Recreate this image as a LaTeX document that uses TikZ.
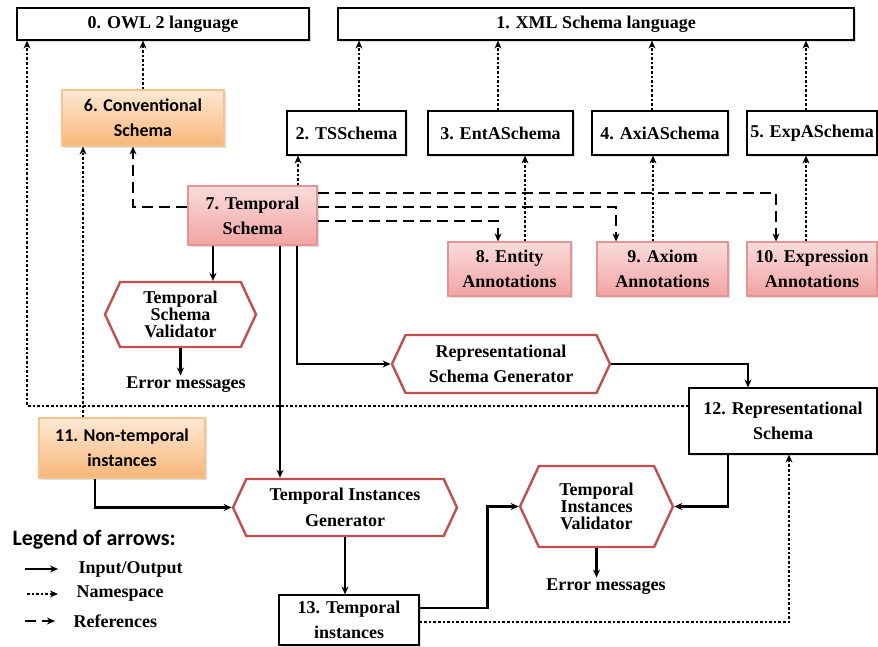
\documentclass[tikz,border=0pt]{standalone}
\usepackage{fontspec}
\setmainfont{Liberation Serif}
\newfontfamily\calib{Carlito}
\usetikzlibrary{arrows.meta, shapes.symbols, shadows}
\definecolor{hexred}{HTML}{C0504D}
\definecolor{pinktop}{HTML}{FBDCDC}
\definecolor{pinkbot}{HTML}{F2A3A3}
\definecolor{pinkline}{HTML}{E39494}
\definecolor{orgtop}{HTML}{FDE8D3}
\definecolor{orgbot}{HTML}{F8B679}
\definecolor{orgline}{HTML}{F6C28E}
\tikzset{
  every picture/.style={line width=1.2pt},
  box/.style={draw=black, fill=white, align=center, inner sep=2pt, font=\fontsize{18}{25}\selectfont\bfseries,
    drop shadow={opacity=0.25, shadow xshift=1.5pt, shadow yshift=-1.5pt}},
  pinkbox/.style={box, draw=pinkline, top color=pinktop, bottom color=pinkbot},
  orgbox/.style={box, draw=orgline, top color=orgtop, bottom color=orgbot, font=\calib\fontsize{18}{25}\selectfont\bfseries},
  hexa/.style={signal, signal to=west and east, signal pointer angle=130, draw=hexred, line width=2.4pt, fill=white,
    align=center, inner sep=1pt, font=\fontsize{18}{17}\selectfont\bfseries},
  io/.style={-{Stealth[length=8pt, width=7pt]}, line width=2.6pt},
  ns/.style={io, dash pattern=on 2.6pt off 2pt},
  ref/.style={io, dash pattern=on 11pt off 6pt},
  note/.style={font=\fontsize{18}{20}\selectfont\bfseries, inner sep=1pt},
}

\begin{document}
\begin{tikzpicture}[x=1pt, y=-1pt]
  \useasboundingbox (0,0) rectangle (878,646);
  \node[box, minimum width=292pt, minimum height=32pt] (n0) at (163,24) {0. OWL 2 language};
  \node[box, minimum width=516pt, minimum height=32pt] (n1) at (596,24) {1. XML Schema language};
  \node[box, minimum width=119pt, minimum height=44pt] (n2) at (346.5,133) {2. TSSchema};
  \node[box, minimum width=145pt, minimum height=44pt] (n3) at (500.5,133) {3. EntASchema};
  \node[box, minimum width=136pt, minimum height=44pt] (n4) at (660,133) {4. AxiASchema};
  \node[box, minimum width=130pt, minimum height=44pt] (n5) at (812,133) {5. ExpASchema};
  \node[orgbox, minimum width=162pt, minimum height=56pt] (n6) at (143,118) {6. Conventional\\Schema};
  \node[pinkbox, minimum width=129pt, minimum height=59pt] (n7) at (252.5,215.5) {7. Temporal\\Schema};
  \node[pinkbox, minimum width=123pt, minimum height=54pt] (n8) at (509.5,269) {8. Entity\\Annotations};
  \node[pinkbox, minimum width=131pt, minimum height=54pt] (n9) at (662.5,269) {9. Axiom\\Annotations};
  \node[pinkbox, minimum width=130pt, minimum height=54pt] (n10) at (812,269) {10. Expression\\Annotations};
  \node[orgbox, minimum width=166pt, minimum height=60pt] (n11) at (122,448) {11. Non-temporal\\instances};
  \node[box, minimum width=188pt, minimum height=66pt] (n12) at (783,421) {12. Representational\\Schema};
  \node[box, minimum width=140pt, minimum height=50pt] (n13) at (349,620) {13. Temporal\\instances};
  \node[hexa, minimum width=151pt, minimum height=65pt] (tsv) at (180.5,314.5) {Temporal\\Schema\\Validator};
  \node[hexa, minimum width=218pt, minimum height=58pt, font=\fontsize{18}{25}\selectfont\bfseries] (rsg) at (501,364) {Representational\\Schema Generator};
  \node[hexa, minimum width=224pt, minimum height=57pt, font=\fontsize{18}{26}\selectfont\bfseries] (tig) at (345,507.5) {Temporal Instances\\Generator};
  \node[hexa, minimum width=153pt, minimum height=81pt] (tiv) at (596.5,506.5) {Temporal\\Instances\\Validator};
  \node[note] (e1) at (186,385) {Error messages};
  \node[note] (e2) at (606,587) {Error messages};

  \draw[ns] (n6.north) -- (n6.north |- n0.south);
  \draw[ns] ([xshift=12.5pt]n2.north) -- ([xshift=12.5pt]n2.north |- n1.south);
  \foreach \a/\s in {n3/-2.5, n4/-8, n5/-6} {\draw[ns] ([xshift=\s pt]\a.north) -- ([xshift=\s pt]\a.north |- n1.south);}
  \foreach \a/\b/\s in {n8/n3/15.5, n9/n4/-9.5, n10/n5/-6} {\draw[ns] ([xshift=\s pt]\a.north) -- ([xshift=\s pt]\a.north |- \b.south);}
  \draw[ns] (n7.north -| 298,0) -- (n2.south -| 298,0);
  \draw[ns] (n11.north -| 83,0) -- (n6.south -| 83,0);
  \draw[ns] ([yshift=15pt]n12.west) -| (n0.south -| 27,0);
  \draw[ns] ([yshift=-2pt]n13.east) -| (n12.south -| 789,0);

  \draw[ref] ([yshift=8.5pt]n7.west) -| (n6.south -| 133,0);
  \draw[ref] ([yshift=22.5pt]n7.east) -| ([xshift=-36pt]n10.north);
  \draw[ref] ([yshift=8.5pt]n7.east) -| ([xshift=-46.5pt]n9.north);
  \draw[ref] ([yshift=-5.5pt]n7.east) -| ([xshift=-11.5pt]n8.north);

  \draw[io] (n7.south -| 213,0) -- (tsv.north -| 213,0);
  \draw[io] (tsv.south) -- (tsv.south |- e1.north);
  \draw[io] (n7.south -| 297,0) |- (rsg.west);
  \draw[io] (n7.south -| 280,0) -- (tig.north -| 280,0);
  \draw[io] (rsg.east) -| ([xshift=-35pt]n12.north);
  \draw[io] ([xshift=-27pt]n11.south) |- (tig.west);
  \draw[io] (tig.south) -- (tig.south |- n13.north);
  \draw[io] ([yshift=12pt]n13.east) -- ++(68,0) |- (tiv.west);
  \draw[io] ([xshift=-55pt]n12.south) |- (tiv.east);
  \draw[io] (tiv.south) -- (tiv.south |- e2.north);

  \node[font=\calib\fontsize{22}{24}\selectfont\bfseries, anchor=west, inner sep=1pt] (lgd) at (11,540) {Legend of arrows:};
  \node[note, anchor=west] (l1) at (77,569) {Input/Output};
  \node[note, anchor=west] (l2) at (75,594) {Namespace};
  \node[note, anchor=west] (l3) at (72,621) {References};
  \draw[io] ([xshift=-52pt]l1.west) -- ([xshift=-19pt]l1.west);
  \draw[ns] ([xshift=-48pt]l2.west) -- ([xshift=-17pt]l2.west);
  \draw[ref] ([xshift=-47pt]l3.west) -- ([xshift=-17pt]l3.west);
\end{tikzpicture}
\end{document}
